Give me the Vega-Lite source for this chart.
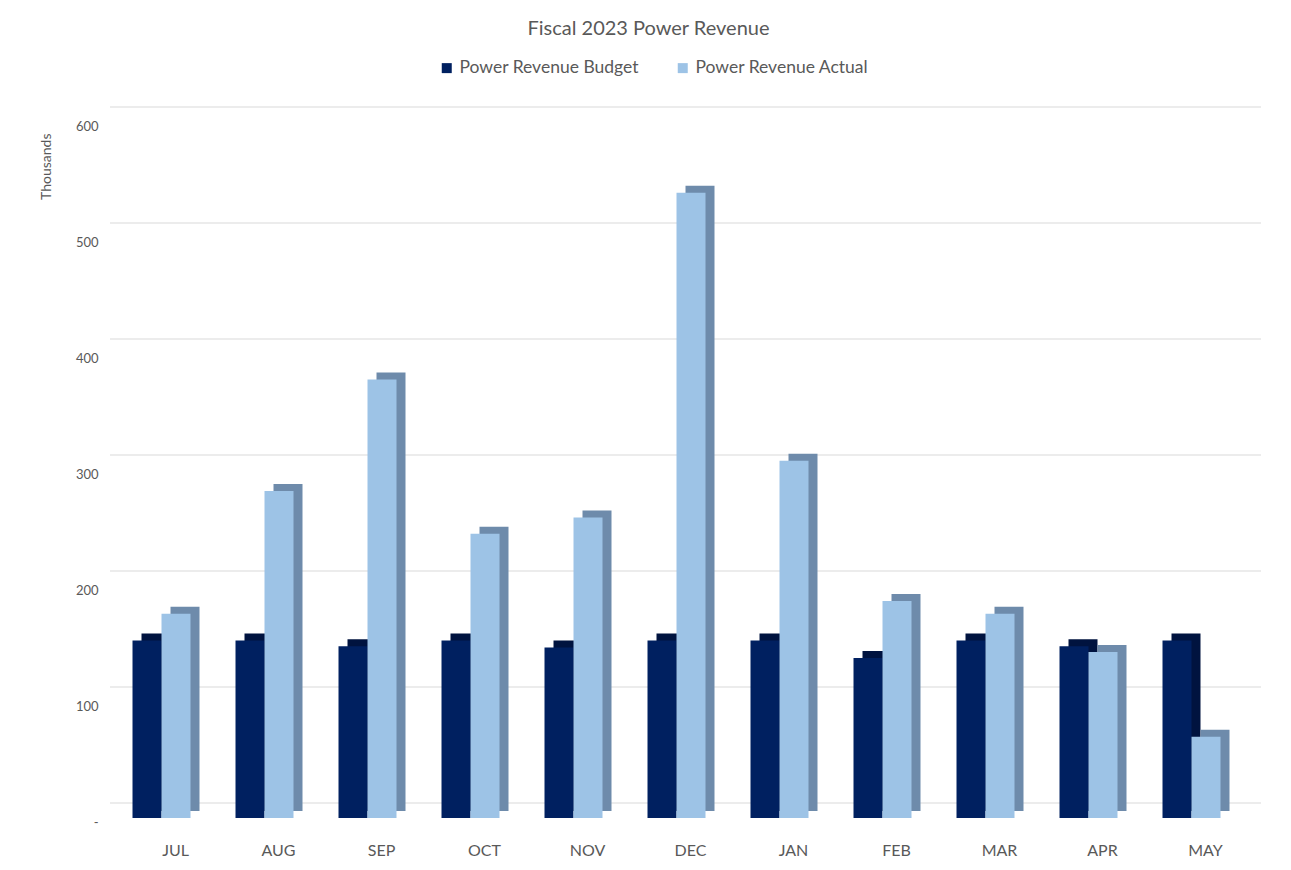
{
  "$schema": "https://vega.github.io/schema/vega-lite/v6.json",
  "autosize": "none",
  "width": 1133,
  "height": 696,
  "padding": {"left": 110, "top": 122, "right": 48, "bottom": 52},
  "background": "white",
  "config": {"view": {"stroke": null}, "font": "Lato"},
  "title": {"text": "Fiscal 2023 Power Revenue", "fontSize": 20, "fontWeight": "normal", "color": "#595959", "offset": 20, "dx": -28, "font": "Lato"},
  "datasets": {
    "grid": [{"v": 0}, {"v": 100}, {"v": 200}, {"v": 300}, {"v": 400}, {"v": 500}, {"v": 600}],
    "rev": [
      {"month": "JUL", "series": "Power Revenue Budget", "value": 153},
      {"month": "JUL", "series": "Power Revenue Actual", "value": 176},
      {"month": "AUG", "series": "Power Revenue Budget", "value": 153},
      {"month": "AUG", "series": "Power Revenue Actual", "value": 282},
      {"month": "SEP", "series": "Power Revenue Budget", "value": 148},
      {"month": "SEP", "series": "Power Revenue Actual", "value": 378},
      {"month": "OCT", "series": "Power Revenue Budget", "value": 153},
      {"month": "OCT", "series": "Power Revenue Actual", "value": 245},
      {"month": "NOV", "series": "Power Revenue Budget", "value": 147},
      {"month": "NOV", "series": "Power Revenue Actual", "value": 259},
      {"month": "DEC", "series": "Power Revenue Budget", "value": 153},
      {"month": "DEC", "series": "Power Revenue Actual", "value": 539},
      {"month": "JAN", "series": "Power Revenue Budget", "value": 153},
      {"month": "JAN", "series": "Power Revenue Actual", "value": 308},
      {"month": "FEB", "series": "Power Revenue Budget", "value": 138},
      {"month": "FEB", "series": "Power Revenue Actual", "value": 187},
      {"month": "MAR", "series": "Power Revenue Budget", "value": 153},
      {"month": "MAR", "series": "Power Revenue Actual", "value": 176},
      {"month": "APR", "series": "Power Revenue Budget", "value": 148},
      {"month": "APR", "series": "Power Revenue Actual", "value": 143},
      {"month": "MAY", "series": "Power Revenue Budget", "value": 153},
      {"month": "MAY", "series": "Power Revenue Actual", "value": 70}
    ]
  },
  "layer": [
    {
      "data": {"name": "grid"},
      "mark": {"type": "rule", "color": "#D9D9D9", "strokeWidth": 1, "xOffset": 18, "x2Offset": 18, "yOffset": -15},
      "encoding": {
        "y": {"field": "v", "type": "quantitative", "scale": {"domain": [0, 600]},
          "axis": {"values": [0, 100, 200, 300, 400, 500, 600], "labelExpr": "datum.value == 0 ? '-' : datum.label", "domain": false, "ticks": false, "grid": false, "labelPadding": 12, "labelOffset": 4, "labelFontSize": 13, "labelColor": "#595959", "title": "Thousands", "titleFontSize": 14, "titleFontWeight": "normal", "titleColor": "#595959", "titlePadding": 22, "titleY": 11, "titleAnchor": "start", "titleAlign": "right", "labelFont": "Lato", "titleFont": "Lato"}}
      }
    },
    {
      "data": {"name": "rev"},
      "mark": {"type": "bar", "yOffset": -7, "y2Offset": -7},
      "encoding": {
        "x": {"field": "month", "type": "nominal", "sort": null, "scale": {"paddingInner": 0.437, "paddingOuter": 0.2185},
          "axis": {"title": null, "domain": false, "ticks": false, "labelAngle": 0, "labelFontSize": 16, "labelColor": "#595959", "labelPadding": 24, "labelOffset": 14, "labelFont": "Lato"}},
        "xOffset": {"field": "series", "type": "nominal", "sort": ["Power Revenue Budget", "Power Revenue Actual"], "scale": {"range": [9, 67], "paddingInner": 0, "paddingOuter": 0}},
        "y": {"field": "value", "type": "quantitative"},
        "color": {"field": "series", "type": "nominal", "sort": ["Power Revenue Budget", "Power Revenue Actual"], "scale": {"range": ["#00133F", "#6E8BAB"]}, "legend": null}
      }
    },
    {
      "data": {"name": "rev"},
      "mark": {"type": "bar"},
      "encoding": {
        "x": {"field": "month", "type": "nominal", "sort": null, "scale": {"paddingInner": 0.437, "paddingOuter": 0.2185},
          "axis": {"title": null, "domain": false, "ticks": false, "labelAngle": 0, "labelFontSize": 16, "labelColor": "#595959", "labelPadding": 24, "labelOffset": 14, "labelFont": "Lato"}},
        "xOffset": {"field": "series", "type": "nominal", "sort": ["Power Revenue Budget", "Power Revenue Actual"], "scale": {"range": [0, 58], "paddingInner": 0, "paddingOuter": 0}},
        "y": {"field": "value", "type": "quantitative"},
        "color": {"field": "series", "type": "nominal", "sort": ["Power Revenue Budget", "Power Revenue Actual"], "scale": {"range": ["#002060", "#9DC3E6"]},
          "legend": {"title": null, "orient": "none", "direction": "horizontal", "legendX": 328, "legendY": -63, "symbolType": "square", "symbolSize": 100, "symbolStrokeWidth": 0, "labelFontSize": 17.5, "labelLimit": 400, "labelColor": "#595959", "columnPadding": 35, "labelFont": "Lato"}}
      }
    }
  ],
  "resolve": {"scale": {"color": "independent", "xOffset": "independent"}}
}
